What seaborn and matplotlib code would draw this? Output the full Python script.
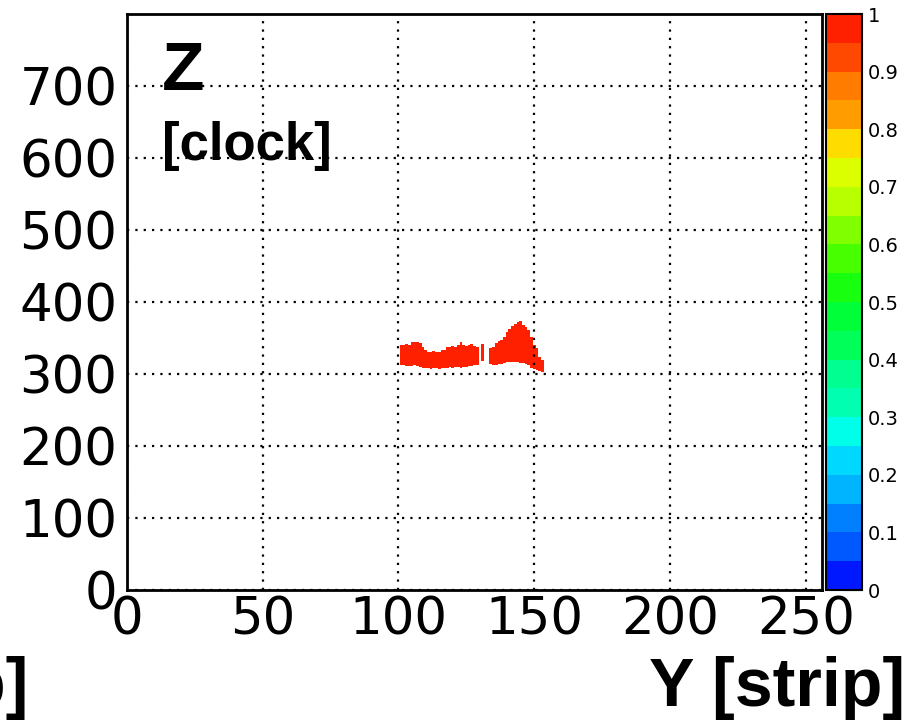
import numpy as np
import pandas as pd
import matplotlib
matplotlib.use("Agg")
import matplotlib.pyplot as plt
from matplotlib.colors import ListedColormap
from matplotlib.ticker import MultipleLocator
import seaborn as sns

# ---- data -----------------------------------------------------------------
strips = list(range(101, 130)) + [131] + list(range(134, 154))
clock_lo = [312, 312, 311, 311, 311, 312, 311, 310, 309, 308,
            308, 307, 308, 308, 307, 308, 309, 309, 310, 309,
            310, 310, 309, 310, 310, 311, 311, 312, 313,
            318,
            314, 313, 313, 314, 314, 315, 316, 316, 317, 317,
            316, 315, 315, 314, 312, 309, 307, 306, 304, 303]
clock_hi = [340, 340, 341, 340, 344, 345, 344, 343, 338, 334,
            331, 331, 332, 330, 331, 333, 334, 338, 338, 339,
            338, 340, 344, 340, 339, 340, 341, 339, 338,
            342,
            336, 338, 343, 346, 347, 352, 358, 363, 367, 369,
            372, 373, 368, 365, 361, 352, 340, 336, 324, 320]
cell_value = 1.0

palette_colors = ["#0018ff", "#0058ff", "#0080ff", "#00b4ff", "#00d8ff",
                  "#00ffe8", "#00ffb0", "#00ff90", "#00ff58", "#00ff38",
                  "#18ff10", "#48ff00", "#80ff00", "#b8ff00", "#dcff00",
                  "#ffdc00", "#ff9c00", "#ff7c00", "#ff4800", "#ff2000"]
cbar_ticks = [0, 0.1, 0.2, 0.3, 0.4, 0.5, 0.6, 0.7, 0.8, 0.9, 1]
cbar_labels = ["0", "0.1", "0.2", "0.3", "0.4", "0.5", "0.6", "0.7", "0.8", "0.9", "1"]
x_ticks = [0, 50, 100, 150, 200, 250]
y_ticks = [0, 100, 200, 300, 400, 500, 600, 700]

# ---- build cell table -------------------------------------------------------
xs, ys, ws = [], [], []
for s, lo, hi in zip(strips, clock_lo, clock_hi):
    for c in range(lo, hi):
        xs.append(s)
        ys.append(c + 0.5)
        ws.append(cell_value)
df = pd.DataFrame({"strip": xs, "clock": ys, "w": ws})

sns.set_style("white")
plt.rcParams["font.family"] = ["DejaVu Sans"]
plt.rcParams["text.color"] = "black"
plt.rcParams["xtick.color"] = "black"
plt.rcParams["ytick.color"] = "black"
plt.rcParams["xtick.labelcolor"] = "black"
plt.rcParams["ytick.labelcolor"] = "black"

fig = plt.figure(figsize=(9.1, 7.21), dpi=100)
W, H = 910, 721
ax = fig.add_axes([127 / W, 131 / H, 695 / W, 576 / H])
cax = fig.add_axes([826 / W, 131 / H, 36 / W, 576 / H])

cmap = ListedColormap(palette_colors)
sns.histplot(data=df, x="strip", y="clock", weights="w",
             binwidth=(1, 1), binrange=((-0.5, 255.5), (0, 800)),
             cmap=cmap, vmin=0, vmax=1, cbar=False, ax=ax)
mesh = ax.collections[0]
mesh.set_clim(0, 1)

ax.set_xlim(0, 256)
ax.set_ylim(0, 800)
ax.set_xlabel("")
ax.set_ylabel("")
ax.set_xticks(x_ticks)
ax.set_yticks(y_ticks)
ax.set_xticklabels([str(v) for v in x_ticks])
ax.set_yticklabels([str(v) for v in y_ticks])
ax.xaxis.set_minor_locator(MultipleLocator(10))
ax.yaxis.set_minor_locator(MultipleLocator(20))
ax.tick_params(which="both", direction="in", color="black", labelcolor="black",
               width=1.3, top=False, right=False)
ax.tick_params(which="major", length=9, labelsize=37)
ax.tick_params(which="minor", length=5)
ax.tick_params(axis="y", which="major", pad=7)
ax.tick_params(axis="x", which="major", pad=4)
ax.grid(True, which="major", color="black", linestyle=(0, (1, 2.75)), linewidth=1.6)
ax.set_axisbelow(False)
for sp in ax.spines.values():
    sp.set_visible(True)
    sp.set_color("black")
    sp.set_linewidth(2)

cb = fig.colorbar(mesh, cax=cax)
cb.set_ticks(cbar_ticks)
cb.set_ticklabels(cbar_labels)
cax.tick_params(direction="in", length=14, width=1.5, labelsize=14, pad=4,
                color="black", labelcolor="black")
cb.outline.set_linewidth(1.5)
cb.outline.set_edgecolor("black")

bold = dict(family=["Liberation Sans", "DejaVu Sans"], fontweight="bold", color="black")
ax.text(0.05, 0.955, "Z", transform=ax.transAxes, ha="left", va="top", fontsize=50, **bold)
ax.text(0.05, 0.815, "[clock]", transform=ax.transAxes, ha="left", va="top", fontsize=38, **bold)
fig.text(905 / W, 33 / H, "Y [strip]", ha="right", va="center", fontsize=49, **bold)
fig.text(28 / W, 33 / H, "X [strip]", ha="right", va="center", fontsize=49, **bold)

fig.savefig("out.png", dpi=100)
